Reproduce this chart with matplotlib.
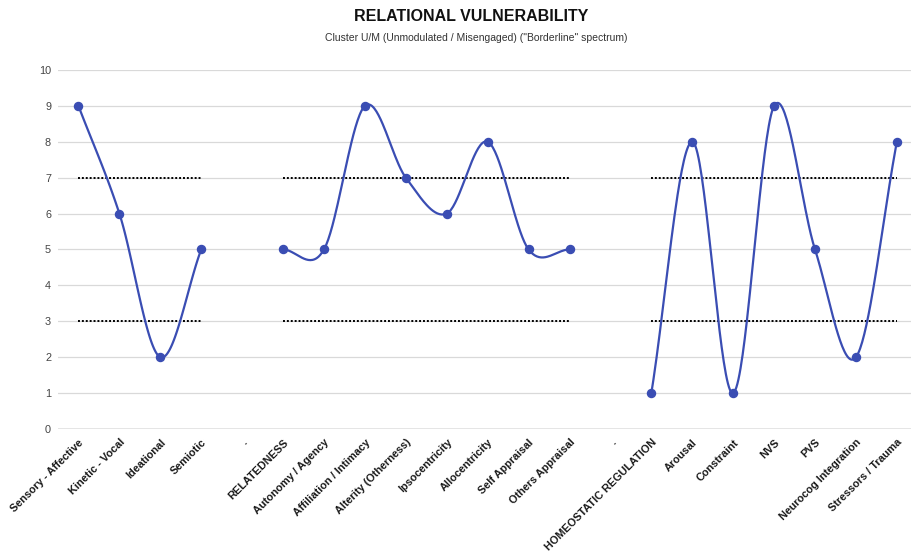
import numpy as np
import matplotlib
matplotlib.use("Agg")
import matplotlib.pyplot as plt

plt.rcParams['font.family'] = ['Liberation Sans', 'DejaVu Sans']

categories = ["Sensory - Affective", "Kinetic - Vocal", "Ideational", "Semiotic", ".",
              "RELATEDNESS", "Autonomy / Agency", "Affiliation / Intimacy", "Alterity (Otherness)",
              "Ipsocentricity", "Allocentricity", "Self Appraisal", "Others Appraisal", ".",
              "HOMEOSTATIC REGULATION", "Arousal", "Constraint", "NVS", "PVS",
              "Neurocog Integration", "Stressors / Trauma"]
values = [9, 6, 2, 5, None,
          5, 5, 9, 7, 6, 8, 5, 5, None,
          1, 8, 1, 9, 5, 2, 8]
upper_ref = [7, 7, 7, 7, None, 7, 7, 7, 7, 7, 7, 7, 7, None, 7, 7, 7, 7, 7, 7, 7]
lower_ref = [3, 3, 3, 3, None, 3, 3, 3, 3, 3, 3, 3, 3, None, 3, 3, 3, 3, 3, 3, 3]
y_ticks = [0, 1, 2, 3, 4, 5, 6, 7, 8, 9, 10]

LINE = '#3a4db3'

def segments(vals):
    segs, cur = [], []
    for i, v in enumerate(vals):
        if v is None:
            if cur:
                segs.append(cur)
            cur = []
        else:
            cur.append((i, v))
    if cur:
        segs.append(cur)
    return segs

def smooth(seg, n=40):
    xs = np.array([p[0] for p in seg], float)
    ys = np.array([p[1] for p in seg], float)
    k = len(xs)
    m = np.zeros(k)
    for i in range(k):
        if i == 0:
            m[i] = ys[1] - ys[0]
        elif i == k - 1:
            m[i] = ys[-1] - ys[-2]
        else:
            m[i] = (ys[i + 1] - ys[i - 1]) / 2
    X, Y = [], []
    for i in range(k - 1):
        t = np.linspace(0, 1, n)
        h00 = 2*t**3 - 3*t**2 + 1
        h10 = t**3 - 2*t**2 + t
        h01 = -2*t**3 + 3*t**2
        h11 = t**3 - t**2
        X.extend(xs[i] + t*(xs[i+1]-xs[i]))
        Y.extend(h00*ys[i] + h10*m[i] + h01*ys[i+1] + h11*m[i+1])
    return np.array(X), np.array(Y)

fig = plt.figure(figsize=(9.12, 5.59), dpi=100)
ax = fig.add_axes([0.0636, 0.2326, 0.9364, 0.6422])

x = np.arange(len(categories))
for yv in y_ticks:
    ax.axhline(yv, color='#d9d9d9' if yv else '#333333', lw=0.9, zorder=0)

for ref in (upper_ref, lower_ref):
    for seg in segments(ref):
        ax.plot([p[0] for p in seg], [p[1] for p in seg], color='black',
                lw=1.4, ls=(0, (1, 1)), zorder=2)

for seg in segments(values):
    X, Y = smooth(seg)
    ax.plot(X, Y, color=LINE, lw=1.6, zorder=3, solid_capstyle='round')
    ax.plot([p[0] for p in seg], [p[1] for p in seg], 'o', color=LINE,
            markersize=5.8, zorder=4, clip_on=False)

ax.set_xlim(-0.5, 20.37)
ax.set_ylim(0, 10)
ax.set_yticks(y_ticks)
ax.set_yticklabels([str(v) for v in y_ticks], fontsize=7.8, color='#444444')
ax.set_xticks(x)
ax.set_xticklabels(categories, rotation=45, ha='right', va='top',
                   rotation_mode='anchor', fontsize=7.8, fontweight='bold', color='#1a1a1a')
ax.tick_params(axis='both', length=0)
ax.tick_params(axis='y', pad=5)
ax.tick_params(axis='x', pad=6)
for s in ax.spines.values():
    s.set_visible(False)

fig.text(0.517, 0.970, "RELATIONAL VULNERABILITY", ha='center', va='center',
         fontsize=11.5, fontweight='bold', color='#111111')
fig.text(0.522, 0.932, 'Cluster U/M (Unmodulated / Misengaged) ("Borderline" spectrum)',
         ha='center', va='center', fontsize=7.5, color='#333333')

fig.savefig("out.png", dpi=100)
